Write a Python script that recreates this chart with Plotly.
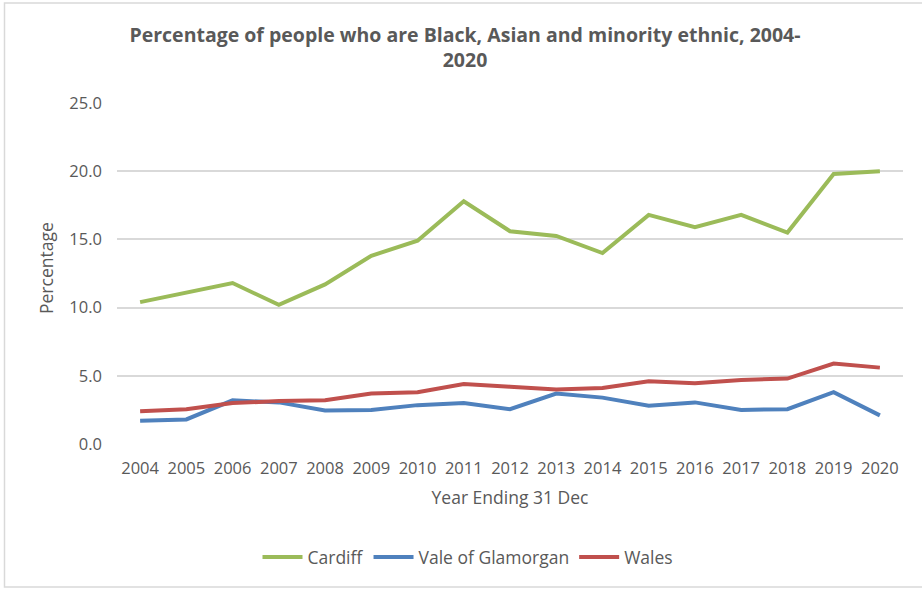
import plotly.graph_objects as go

years = [str(y) for y in range(2004, 2021)]
cardiff = [10.4, 11.1, 11.8, 10.2, 11.7, 13.8, 14.9, 17.8, 15.6, 15.25, 14.0, 16.8, 15.9, 16.8, 15.5, 19.8, 20.0]
vale = [1.7, 1.8, 3.2, 3.05, 2.45, 2.5, 2.85, 3.0, 2.55, 3.7, 3.4, 2.8, 3.05, 2.5, 2.55, 3.8, 2.1]
wales = [2.4, 2.55, 3.0, 3.15, 3.2, 3.7, 3.8, 4.4, 4.2, 4.0, 4.1, 4.6, 4.45, 4.7, 4.8, 5.9, 5.6]
y_ticks = [0, 5, 10, 15, 20, 25]

series = [("Cardiff", cardiff, "#9bbb59"),
          ("Vale of Glamorgan", vale, "#4f81bd"),
          ("Wales", wales, "#c0504d")]

W, H = 922, 589
L, R, T, B = 117, 19, 103, 145
PW, PH = W - L - R, H - T - B
grey = "#595959"
font_family = "Open Sans, Liberation Sans, sans-serif"

fig = go.Figure()
for name, vals, col in series:
    fig.add_trace(go.Scatter(x=years, y=vals, name=name, mode="lines",
                             line=dict(color=col, width=4)))

fig.update_layout(
    width=W, height=H,
    margin=dict(l=L, r=R, t=T, b=B),
    paper_bgcolor="white", plot_bgcolor="white",
    font=dict(family=font_family, color=grey, size=17),
    title=dict(text="<b>Percentage of people who are Black, Asian and minority ethnic, 2004-<br>2020</b>",
               x=465 / W, xanchor="center", xref="container",
               y=1 - 42 / H, yanchor="middle",
               font=dict(size=19.5, color=grey, family=font_family)),
    xaxis=dict(type="category", range=[-0.5, len(years) - 0.5],
               showgrid=False, showline=False, ticks="",
               tickfont=dict(size=16.5, color=grey), ticklabelstandoff=12,
               title=dict(text="Year Ending 31 Dec", font=dict(size=17.5, color=grey), standoff=14)),
    yaxis=dict(range=[0, 25], tickvals=y_ticks, tickformat=".1f",
               gridcolor="#d9d9d9", gridwidth=1.5, zeroline=False, showline=False,
               tickfont=dict(size=16.5, color=grey), ticklabelstandoff=14),
    legend=dict(orientation="h", x=468 / W, xref="container", xanchor="center",
                y=1 - 557 / H, yref="container", yanchor="middle",
                font=dict(size=17.5, color=grey), itemwidth=40, tracegroupgap=0),
    showlegend=True,
)

# y-axis title placed as in the reference
fig.add_annotation(text="Percentage", textangle=-90, showarrow=False,
                   xref="paper", yref="paper", x=-(L - 46) / PW, xanchor="center",
                   y=(444 - 268) / PH, yanchor="middle",
                   font=dict(size=17.5, color=grey))

# chart border
fig.add_shape(type="rect", xref="paper", yref="paper",
              x0=-(L - 4.5) / PW, x1=(PW + R + 10) / PW,
              y0=-(587 - 444) / PH, y1=1 + (T - 3) / PH,
              line=dict(color="#d9d9d9", width=1.5), layer="below")

fig.write_html("out.html")
